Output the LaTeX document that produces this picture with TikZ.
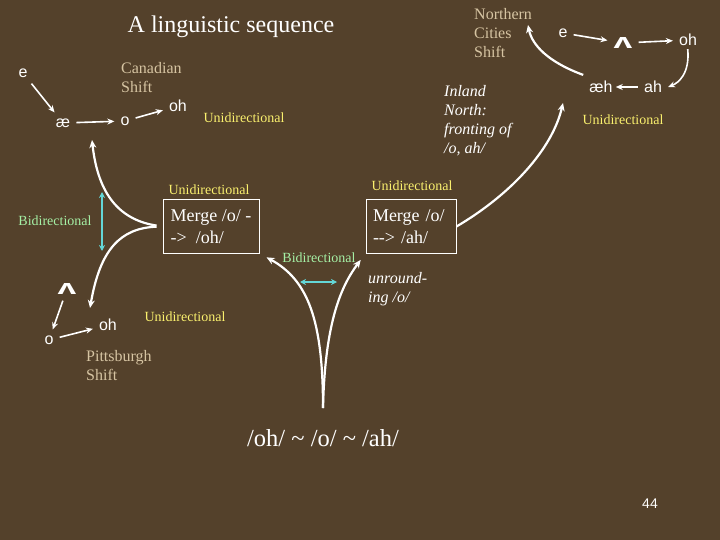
\documentclass[tikz,border=0pt]{standalone}
\usepackage{fontspec}
\setmainfont{Liberation Serif}
\newfontfamily\phonfont{Liberation Sans}
\usepackage{graphicx}
\usepackage{tikz}
\usetikzlibrary{arrows.meta, calc}
\definecolor{bgbrown}{RGB}{84,65,43}
\definecolor{shifttan}{RGB}{214,196,162}
\definecolor{uniyel}{RGB}{250,240,110}
\definecolor{bigreen}{RGB}{165,240,165}
\definecolor{bicyan}{RGB}{100,215,215}
\newcommand{\wedgev}{\scalebox{2.1}[1.3]{\bfseries ʌ}}
\tikzset{
  phon/.style={text=white, inner sep=6pt,
               font=\phonfont\fontsize{16}{19}\selectfont},
  shiftlbl/.style={text=shifttan, align=left, anchor=west, inner sep=0pt,
                   font=\fontsize{16}{19}\selectfont},
  uni/.style={text=uniyel, inner sep=1pt, font=\fontsize{14}{17}\selectfont},
  bidir/.style={text=bigreen, inner sep=1pt, font=\fontsize{14}{17}\selectfont},
  note/.style={text=white, align=left, anchor=west, inner sep=0pt,
               font=\itshape\fontsize{16}{19}\selectfont},
  merge/.style={rectangle, draw=white, line width=1pt, text=white,
                align=left, inner xsep=7pt, minimum height=53pt,
                font=\fontsize{18}{22}\selectfont},
  arr/.style={-{Stealth[length=7pt,width=6pt]}, white, line width=1.6pt},
  curv/.style={-{Stealth[length=8pt,width=7pt]}, white, line width=2.2pt},
  biarr/.style={{Stealth[length=6pt,width=6pt]}-{Stealth[length=6pt,width=6pt]},
                bicyan, line width=1.8pt},
}

\begin{document}
\begin{tikzpicture}[x=1pt, y=-1pt]
  \fill[bgbrown] (0,0) rectangle (720,540);

  \node[text=white, font=\fontsize{24}{28}\selectfont] (title) at (231,27) {A linguistic sequence};

  % Canadian shift
  \node[shiftlbl] (can) at (121,77.5) {Canadian\\Shift};
  \node[phon] (ce)  at (23,73)   {e};
  \node[phon] (cae) at (63,123)  {æ};
  \node[phon] (co)  at (125,121) {o};
  \node[phon] (coh) at (178,106) {oh};
  \node[uni] (canuni) at (244,118) {Unidirectional};
  \draw[arr] (ce) -- (cae);
  \draw[arr] (cae) -- (co);
  \draw[arr] (co) -- (coh);

  % Northern Cities shift
  \node[shiftlbl] (ncs) at (474,33) {Northern\\Cities\\Shift};
  \node[phon] (ne)     at (563,33)  {e};
  \node[phon] (nwedge) at (623,43)  {\wedgev};
  \node[phon] (noh)    at (688,40)  {oh};
  \node[phon] (nah)    at (653,87)  {ah};
  \node[phon] (naeh)   at (601,87)  {æh};
  \node[uni] (ncsuni) at (623,120) {Unidirectional};
  \draw[arr] (ne) -- (nwedge);
  \draw[arr] (nwedge) -- (noh);
  \draw[arr, shorten <=-3pt] (noh.south) .. controls +(2,22) and +(10,-4) .. (nah.east);
  \draw[arr, shorten >=-3pt] (nah) -- (naeh);
  \node[note] (inland) at (444,121) {Inland\\North:\\fronting of\\/o, ah/};

  % Pittsburgh shift
  \node[phon] (pwedge) at (67,289)  {\wedgev};
  \node[phon] (po)     at (49,340)  {o};
  \node[phon] (poh)    at (108,325) {oh};
  \node[shiftlbl] (pit) at (86,365.5) {Pittsburgh\\Shift};
  \node[uni] (pituni) at (185,317) {Unidirectional};
  \draw[arr] (pwedge) -- (po);
  \draw[arr] (po) -- (poh);

  % mergers
  \node[merge, minimum width=96pt] (ohmerge) at (211,226.5) {Merge /o/ -\\-> ~/oh/};
  \node[merge, text width=76pt] (ahmerge) at (411,226.5) {Merge /o/\\{-}{-}> /ah/};
  \node[uni] (ohuni) at (209,190) {Unidirectional};
  \node[uni] (ahuni) at (412,186) {Unidirectional};
  \node[text=white, font=\fontsize{24.5}{28}\selectfont] (res) at (323,438)
    {/oh/ \textasciitilde{} /o/ \textasciitilde{} /ah/};
  \node[note] (unr) at (368,289) {unround-\\ing /o/};
  \node[bidir] (lbi) at (55,221) {Bidirectional};
  \node[bidir] (vbi) at (319,258) {Bidirectional};

  \coordinate (canTip) at (92,140);
  \coordinate (pitTip) at (90,308);
  \coordinate (vtip) at (323,408);
  \coordinate (innTip) at (563,103);
  \coordinate (ncsTip) at (528,25);
  \coordinate (bvtop) at (102,192);
  \coordinate (bvbot) at (102,251);
  \coordinate (bhl) at (300,282);
  \coordinate (bhr) at (337,282);

  \draw[curv, shorten <=6pt] (ohmerge.west) .. controls (120,220) and (98,195) .. (canTip);
  \draw[curv, shorten <=6pt] (ohmerge.west) .. controls (120,228) and (100,250) .. (pitTip);
  \draw[curv, shorten >=8pt] (vtip) .. controls (323,320) and (308,280) .. (ohmerge.south east);
  \draw[curv, shorten >=8pt] (vtip) .. controls (325,320) and (342,285) .. (ahmerge.south west);
  \draw[curv] (ahmerge.east) .. controls (510,195) and (552,150) .. (innTip);
  \draw[curv] (naeh.north west) .. controls (548,62) and (532,45) .. (ncsTip);
  \draw[biarr] (bvtop) -- (bvbot);
  \draw[biarr] (bhl) -- (bhr);

  \node[text=white, font=\phonfont\fontsize{14}{17}\selectfont] (pg) at (650,504) {44};
\end{tikzpicture}
\end{document}
